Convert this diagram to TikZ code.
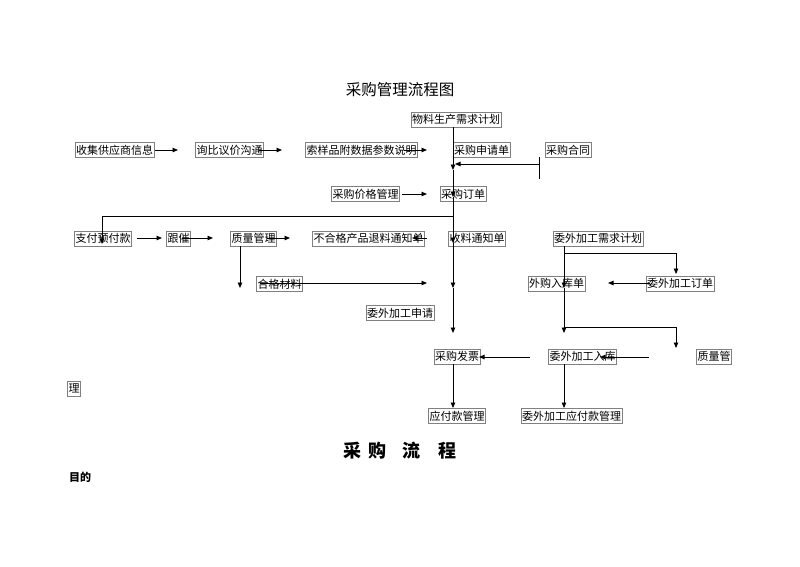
\documentclass[tikz,border=0pt]{standalone}
\usepackage{fontspec}
\usetikzlibrary{arrows.meta}
\newfontfamily\songti{Noto Sans CJK SC}
\newfontfamily\heiti{Noto Sans CJK SC}
\begin{document}
\begin{tikzpicture}[x=1pt,y=-1pt,
  box/.style={draw=gray, line width=0.6pt, inner xsep=1.2pt, inner ysep=0pt,
    minimum height=15pt, font=\songti\fontsize{11}{11}\selectfont},
  conn/.style={line width=0.9pt, -{Triangle[length=5.5pt,width=4.5pt]}},
  ln/.style={line width=0.9pt},
  ttl/.style={font=\songti\fontsize{15.5}{15.5}\selectfont, inner sep=0pt},
  heading/.style={font=\heiti\bfseries\fontsize{18}{18}\selectfont, inner sep=0pt},
  sub/.style={font=\heiti\bfseries\fontsize{11}{11}\selectfont, inner sep=0pt}]
\useasboundingbox (0,0) rectangle (800,566);
\fill[white] (0,0) rectangle (800,566);

% nodes
\node[ttl] (title) at (400,90) {采购管理流程图};
\node[box] (wl) at (456,119.5) {物料生产需求计划};
\node[box] (sj) at (114.5,150) {收集供应商信息};
\node[box] (xb) at (229.5,150) {询比议价沟通};
\node[box] (sy) at (361.5,150) {索样品附数据参数说明};
\node[box] (sq) at (481.5,150) {采购申请单};
\node[box] (ht) at (568,150) {采购合同};
\node[box] (jg) at (365.5,194) {采购价格管理};
\node[box] (dd) at (463,194) {采购订单};
\node[box] (zf) at (103,238.5) {支付预付款};
\node[box] (gc) at (178.5,238.5) {跟催};
\node[box] (zl) at (253.5,238.5) {质量管理};
\node[box] (bh) at (368.5,238.5) {不合格产品退料通知单};
\node[box] (sl) at (477,238.5) {收料通知单};
\node[box] (ww) at (598,238.5) {委外加工需求计划};
\node[box] (hg) at (279.5,284) {合格材料};
\node[box] (wg) at (556.5,283.5) {外购入库单};
\node[box] (wd) at (680,283.5) {委外加工订单};
\node[box] (ws) at (400,313) {委外加工申请};
\node[box] (fp) at (457,356.5) {采购发票};
\node[box] (wr) at (582.5,356.5) {委外加工入库};
\node[box] (zg) at (714,356.5) {质量管};
\node[box] (li) at (74,388.5) {理};
\node[box] (yf) at (457,416) {应付款管理};
\node[box] (wy) at (571.5,416) {委外加工应付款管理};
\node[heading] (cg) at (400,451) {采\hspace{0.4em}购\hspace{0.9em}流\hspace{1em}程};
\node[sub, anchor=west] (md) at (69,477) {目的};

% free ends
\coordinate (a1) at (178,150);
\coordinate (a2s) at (259,150); \coordinate (a2e) at (282,150);
\coordinate (a3s) at (404,150); \coordinate (a3e) at (427,150);
\coordinate (v1) at (453,170);
\coordinate (v2) at (453,197);
\coordinate (v3) at (453,243);
\coordinate (v4) at (453,288);
\coordinate (v5) at (453,333);
\coordinate (h1) at (539,157); \coordinate (h2) at (539,179);
\coordinate (h3) at (539,164); \coordinate (h4) at (455,164);
\coordinate (p1) at (402,194); \coordinate (p2) at (427,194);
\coordinate (j1) at (453,216); \coordinate (z1) at (102,244);
\coordinate (r1s) at (137,238); \coordinate (r1e) at (162,238);
\coordinate (r2s) at (182,238); \coordinate (r2e) at (213,238);
\coordinate (r3s) at (267,238); \coordinate (r3e) at (290,238);
\coordinate (r4s) at (427,238); \coordinate (r4e) at (412,238);
\coordinate (q1) at (240,288);
\coordinate (g1) at (260,283); \coordinate (g2) at (427,283);
\coordinate (w1) at (564,288);
\coordinate (w2) at (564,333);
\coordinate (b1) at (564,253); \coordinate (b2) at (676,274);
\coordinate (c1) at (650,283); \coordinate (c2) at (608,283);
\coordinate (b3) at (564,327); \coordinate (b4) at (676,348);
\coordinate (e1) at (649,357); \coordinate (e2) at (600,357);
\coordinate (f1) at (530,357); \coordinate (f2) at (479,357);
\coordinate (y1) at (453,408); \coordinate (y2) at (564,408);

% connectors
\draw[conn] (sj.east) -- (a1);
\draw[conn] (a2s) -- (a2e);
\draw[conn] (a3s) -- (a3e);
\draw[conn] (v1 |- wl.south) -- (v1);
\draw[conn] (v1) -- (v2);
\draw[conn] (v2) -- (v3);
\draw[conn] (v3) -- (v4);
\draw[conn] (v4) -- (v5);
\draw[ln] (h1) -- (h2);
\draw[conn] (h3) -- (h4);
\draw[conn] (p1) -- (p2);
\draw[conn] (j1) -| (z1);
\draw[conn] (r1s) -- (r1e);
\draw[conn] (r2s) -- (r2e);
\draw[conn] (r3s) -- (r3e);
\draw[conn] (r4s) -- (r4e);
\draw[conn] (q1 |- zl.south) -- (q1);
\draw[conn] (g1) -- (g2);
\draw[conn] (w1 |- ww.south) -- (w1);
\draw[conn] (w1) -- (w2);
\draw[conn] (b1) -| (b2);
\draw[conn] (c1) -- (c2);
\draw[conn] (b3) -| (b4);
\draw[conn] (e1) -- (e2);
\draw[conn] (f1) -- (f2);
\draw[conn] (y1 |- fp.south) -- (y1);
\draw[conn] (y2 |- wr.south) -- (y2);
\end{tikzpicture}
\end{document}
